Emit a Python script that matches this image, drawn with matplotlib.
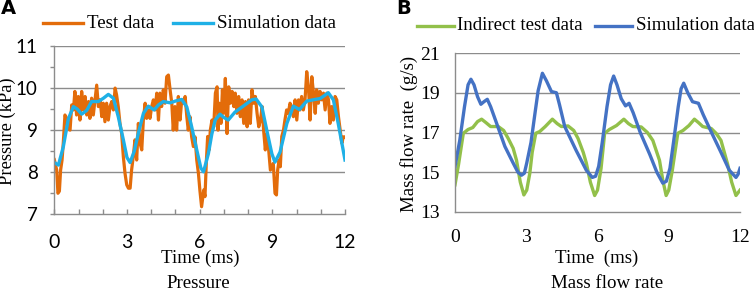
import numpy as np
import matplotlib
matplotlib.use("Agg")
import matplotlib.pyplot as plt

# Panel A: pressure, test data
t_test = [0.0, 0.1, 0.15, 0.21, 0.26, 0.32, 0.37, 0.44, 0.51, 0.58, 0.65, 0.72, 0.79, 0.85, 0.92, 0.99,
          1.06, 1.13, 1.2, 1.27, 1.34, 1.41, 1.47, 1.54, 1.61, 1.68, 1.75, 1.82, 1.89, 1.96,
          2.02, 2.09, 2.16, 2.23, 2.3, 2.37, 2.44, 2.51, 2.57, 2.64, 2.71, 2.78, 2.85, 2.92, 2.99,
          3.06, 3.13, 3.19, 3.26, 3.33, 3.4, 3.47, 3.54, 3.61, 3.68, 3.75, 3.81, 3.88, 3.95,
          4.02, 4.09, 4.16, 4.23, 4.3, 4.36, 4.43, 4.5, 4.57, 4.64, 4.71, 4.78, 4.85, 4.91, 4.98,
          5.05, 5.12, 5.19, 5.26, 5.33, 5.4, 5.47, 5.53, 5.6, 5.67, 5.74, 5.81, 5.88, 5.95,
          6.01, 6.08, 6.17, 6.22, 6.28, 6.33, 6.39, 6.44, 6.51, 6.58, 6.65, 6.72, 6.76, 6.81, 6.88, 6.94, 6.99,
          7.06, 7.13, 7.2, 7.27, 7.34, 7.41, 7.47, 7.54, 7.61, 7.68, 7.75, 7.82, 7.89, 7.96,
          8.02, 8.09, 8.16, 8.23, 8.3, 8.37, 8.44, 8.51, 8.58, 8.64, 8.71, 8.78, 8.85, 8.92,
          9.04, 9.11, 9.17, 9.22, 9.28, 9.33, 9.39, 9.46, 9.52, 9.59, 9.66, 9.73, 9.8, 9.87, 9.94,
          10.01, 10.08, 10.14, 10.21, 10.28, 10.35, 10.42, 10.49, 10.56, 10.63, 10.7, 10.77, 10.83, 10.9, 10.97,
          11.04, 11.11, 11.18, 11.25, 11.32, 11.38, 11.45, 11.52, 11.59, 11.66, 11.73, 11.8, 11.87, 11.93, 12.0]
p_test = [8.3, 8.05, 7.5, 7.55, 8.05, 8.29, 8.69, 9.36, 9.28, 9.04, 9.0, 9.6, 9.48, 9.92, 9.36, 9.8,
          9.24, 9.92, 9.48, 9.8, 9.36, 9.68, 9.28, 9.76, 9.36, 9.72, 10.07, 9.56, 9.72, 9.32,
          9.64, 9.2, 9.64, 9.24, 9.56, 9.68, 9.48, 10.0, 9.84, 9.56, 9.16, 8.92, 8.37, 7.97, 7.7,
          7.62, 7.62, 8.05, 8.37, 8.77, 8.29, 9.16, 8.69, 8.53, 9.28, 9.64, 9.28, 9.48, 9.28,
          9.56, 9.72, 9.48, 9.88, 9.24, 9.88, 9.56, 9.96, 9.64, 10.27, 10.31, 9.96, 9.64, 9.0, 9.56,
          9.0, 9.8, 9.24, 9.72, 9.64, 9.8, 9.32, 9.0, 9.32, 8.84, 8.61, 8.84, 8.29, 7.97,
          7.57, 7.18, 7.58, 7.42, 8.29, 8.85, 8.53, 9.0, 9.24, 9.08, 9.88, 10.03, 9.0, 9.64, 9.16, 9.96, 9.4,
          10.23, 8.92, 10.03, 9.64, 9.92, 9.56, 9.88, 9.4, 9.8, 9.32, 9.72, 9.16, 9.68, 9.08,
          9.72, 9.16, 9.96, 9.64, 9.8, 9.4, 9.08, 9.24, 9.56, 9.0, 8.53, 8.92, 8.53, 8.05,
          8.21, 7.5, 7.46, 8.05, 8.29, 8.13, 8.85, 9.0, 9.24, 9.48, 9.4, 9.64, 9.56, 9.32, 9.72,
          9.24, 9.72, 9.48, 9.8, 9.48, 9.72, 10.39, 10.03, 9.24, 10.27, 9.88, 9.4, 9.96, 9.64, 9.92,
          9.72, 9.88, 9.48, 9.88, 9.72, 9.16, 9.56, 9.24, 9.8, 9.72, 9.32, 9.0, 8.69, 8.84, 8.84]

# Panel A: pressure, simulation
t_sim_a = [0.0, 0.17, 0.37, 0.58, 0.79, 0.95, 1.13, 1.34, 1.54, 1.82, 2.03, 2.23, 2.44, 2.64, 2.85,
           3.0, 3.13, 3.3, 3.5, 3.68, 3.88, 4.12, 4.3, 4.5, 4.78, 5.05, 5.26, 5.47, 5.67, 5.88,
           6.05, 6.16, 6.36, 6.5, 6.64, 6.84, 7.0, 7.18, 7.46, 7.8, 8.15, 8.33, 8.57, 8.77, 8.98,
           9.11, 9.32, 9.6, 9.87, 10.12, 10.42, 10.76, 10.97, 11.15, 11.31, 11.52, 11.72, 12.0]
p_sim_a = [8.23, 8.17, 8.6, 9.27, 9.56, 9.5, 9.38, 9.47, 9.68, 9.68, 9.76, 9.85, 9.76, 9.32, 8.77,
           8.35, 8.23, 8.5, 9.0, 9.4, 9.57, 9.48, 9.6, 9.68, 9.65, 9.7, 9.73, 9.55, 9.08, 8.53,
           8.1, 8.01, 8.44, 8.9, 9.24, 9.38, 9.3, 9.24, 9.43, 9.57, 9.72, 9.74, 9.55, 9.0, 8.44,
           8.24, 8.48, 9.16, 9.57, 9.49, 9.69, 9.73, 9.75, 9.82, 9.89, 9.72, 9.16, 8.29]

# Panel B: mass flow rate, indirect test data
t_ind = [0.0, 0.15, 0.35, 0.55, 0.75, 0.95, 1.12, 1.3, 1.5, 1.82, 2.05, 2.24, 2.45, 2.59, 2.75, 2.9,
         3.02, 3.15, 3.25, 3.4, 3.57, 3.8, 4.1, 4.3, 4.48, 4.76, 5.0, 5.18, 5.4, 5.53, 5.7, 5.88,
         6.0, 6.15, 6.3, 6.5, 6.8, 7.11, 7.3, 7.49, 7.84, 8.1, 8.33, 8.61, 8.75, 8.89,
         9.0, 9.15, 9.38, 9.6, 9.85, 10.08, 10.25, 10.43, 10.79, 11.0, 11.2, 11.48, 11.65, 11.83, 12.0]
m_ind = [14.37, 15.4, 16.96, 17.15, 17.25, 17.55, 17.67, 17.5, 17.3, 17.3, 17.1, 16.7, 16.2, 15.6, 14.5, 13.86,
         14.1, 14.95, 16.0, 16.96, 17.05, 17.3, 17.67, 17.45, 17.3, 17.33, 17.1, 16.7, 16.0, 15.46, 14.5, 13.83,
         14.1, 15.2, 16.96, 17.15, 17.35, 17.67, 17.45, 17.3, 17.28, 17.0, 16.6, 15.6, 14.6, 13.83,
         14.1, 15.1, 16.96, 17.1, 17.35, 17.67, 17.5, 17.3, 17.2, 16.95, 16.6, 15.4, 14.5, 13.83, 14.1]

# Panel B: mass flow rate, simulation
t_sim_b = [0.0, 0.2, 0.4, 0.55, 0.67, 0.8, 0.95, 1.09, 1.22, 1.36, 1.5, 1.75, 2.1, 2.45, 2.65, 2.8, 2.92,
           3.02, 3.2, 3.36, 3.5, 3.68, 3.85, 4.06, 4.27, 4.4, 4.62, 5.1, 5.53, 5.78, 5.92,
           6.05, 6.2, 6.4, 6.55, 6.68, 6.82, 7.0, 7.18, 7.33, 7.5, 7.8, 8.2, 8.5, 8.75, 8.9,
           9.05, 9.2, 9.4, 9.52, 9.63, 9.8, 10.0, 10.25, 10.45, 10.8, 11.2, 11.55, 11.83, 11.92, 12.0]
m_sim_b = [15.29, 16.6, 18.3, 19.4, 19.68, 19.4, 18.8, 18.42, 18.55, 18.67, 18.3, 17.47, 16.3, 15.46, 15.0, 14.85, 14.95,
           15.46, 16.5, 17.9, 19.1, 19.98, 19.6, 19.06, 19.0, 18.4, 17.3, 16.1, 15.1, 14.74, 14.8,
           15.3, 16.5, 18.3, 19.4, 19.84, 19.4, 18.7, 18.34, 18.47, 18.0, 17.0, 15.9, 15.0, 14.45, 14.55,
           15.2, 16.5, 18.3, 19.2, 19.48, 19.0, 18.55, 18.47, 17.9, 17.0, 16.0, 15.1, 14.74, 14.9, 15.2]

W, H = 754, 290
serif = "Liberation Serif"
sans = "Lato"
grid_c = "#8c8c8c"


def fx(px):
    return px / W


def fy(py):
    return 1 - py / H


fig = plt.figure(figsize=(W / 100, H / 100), dpi=100)

# ---------------- Panel A ----------------
ax1 = fig.add_axes([fx(54.3), fy(214.3), fx(345 - 54.3), (214.3 - 46) / H])
ax1.plot(t_test, p_test, color="#e36c0a", lw=2.3, solid_joinstyle="round")
ax1.plot(t_sim_a, p_sim_a, color="#1fb0e6", lw=2.4, solid_joinstyle="round")
ax1.set_xlim(0, 12)
ax1.set_ylim(7, 11)
for v in [8, 9, 10, 11]:
    ax1.axhline(v, color=grid_c, lw=1.0, zorder=0)
for s in ["top", "right"]:
    ax1.spines[s].set_visible(False)
for s in ["left", "bottom"]:
    ax1.spines[s].set_color(grid_c)
    ax1.spines[s].set_linewidth(1.0)
ax1.set_xticks(np.arange(0, 13, 1))
ax1.set_xticklabels([str(i) if i % 3 == 0 else "" for i in range(13)])
ax1.set_yticks(np.arange(7, 11.01, 0.5))
ax1.set_yticklabels([str(int(v)) if v == int(v) else "" for v in np.arange(7, 11.01, 0.5)])
ax1.tick_params(axis="x", direction="in", length=3.5, color=grid_c, width=1, pad=14,
                labelsize=14, labelfontfamily=sans)
ax1.tick_params(axis="y", direction="out", length=3, color=grid_c, width=1, pad=9,
                labelsize=13.5, labelfontfamily=sans)

# legend A
fig.add_artist(plt.Line2D([fx(43), fx(83)], [fy(23), fy(23)], color="#e36c0a", lw=2.4))
fig.text(fx(87), fy(23), "Test data", family=serif, fontsize=13.6, va="center")
fig.add_artist(plt.Line2D([fx(173), fx(213)], [fy(23), fy(23)], color="#1fb0e6", lw=2.4))
fig.text(fx(217), fy(23), "Simulation data", family=serif, fontsize=13.6, va="center")

fig.text(fx(8), fy(9), "A", family="DejaVu Sans", fontweight="bold", fontsize=14,
         ha="center", va="center")
fig.text(fx(7.5), fy(131), "Pressure (kPa)", family=serif, fontsize=13.3, rotation=90,
         ha="center", va="center")
fig.text(fx(200), fy(258), "Time (ms)", family=serif, fontsize=13.6, ha="center", va="center")
fig.text(fx(198), fy(283), "Pressure", family=serif, fontsize=13.6, ha="center", va="center")

# ---------------- Panel B ----------------
ax2 = fig.add_axes([fx(455), fy(212), fx(740 - 455), (212 - 53) / H])
ax2.plot(t_ind, m_ind, color="#92c04a", lw=2.4, solid_joinstyle="round")
ax2.plot(t_sim_b, m_sim_b, color="#4472c4", lw=2.4, solid_joinstyle="round")
ax2.set_xlim(0, 12)
ax2.set_ylim(13, 21)
for v in [15, 17, 19, 21]:
    ax2.axhline(v, color=grid_c, lw=1.0, zorder=0)
for s in ["top", "right"]:
    ax2.spines[s].set_visible(False)
for s in ["left", "bottom"]:
    ax2.spines[s].set_color(grid_c)
    ax2.spines[s].set_linewidth(1.0)
ax2.set_xticks([0, 3, 6, 9, 12])
ax2.set_yticks([13, 15, 17, 19, 21])
ax2.tick_params(axis="both", length=0, labelsize=14, labelfontfamily=serif)
ax2.tick_params(axis="x", pad=12)
ax2.tick_params(axis="y", pad=11)

fig.add_artist(plt.Line2D([fx(417), fx(454)], [fy(26), fy(26)], color="#92c04a", lw=2.4))
fig.text(fx(457), fy(26), "Indirect test data", family=serif, fontsize=13.6, va="center")
fig.add_artist(plt.Line2D([fx(595), fx(632)], [fy(26), fy(26)], color="#4472c4", lw=2.4))
fig.text(fx(636), fy(26), "Simulation data", family=serif, fontsize=13.6, va="center")

fig.text(fx(404), fy(9), "B", family="DejaVu Sans", fontweight="bold", fontsize=14,
         ha="center", va="center")
fig.text(fx(409), fy(134), "Mass flow rate  (g/s)", family=serif, fontsize=13.6, rotation=90,
         ha="center", va="center")
fig.text(fx(597), fy(258), "Time  (ms)", family=serif, fontsize=13.6, ha="center", va="center")
fig.text(fx(607), fy(283), "Mass flow rate", family=serif, fontsize=13.6, ha="center", va="center")

fig.savefig("out.png", dpi=100)
